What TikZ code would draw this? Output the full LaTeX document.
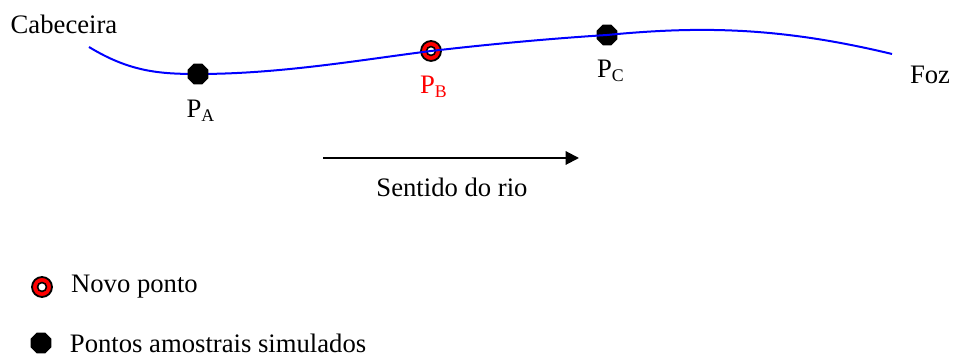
\documentclass[tikz,border=0pt]{standalone}
\usepackage{fontspec}
\setmainfont{Liberation Serif}
\usepackage{xcolor}
\usepackage{tikz}
\usetikzlibrary{arrows,positioning,calc,shapes.geometric,arrows.meta}

\begin{document}
\begin{tikzpicture}[x=0.45pt, y=-0.45pt,
  sample/.style={regular polygon, regular polygon sides=8, fill=black,
    inner sep=0pt, minimum size=10pt},
  newring/.style={circle, draw=black, fill=red, line width=0.8pt,
    inner sep=0pt, minimum size=9pt},
  newhole/.style={circle, draw=black, fill=white, line width=0.7pt,
    inner sep=0pt, minimum size=4pt},
  lbl/.style={font=\fontsize{12}{14}\selectfont, inner sep=0pt},
  river/.style={blue, line width=0.9pt},
  arr/.style={-{Triangle[length=6pt,width=6pt]}, line width=0.9pt}]
  \useasboundingbox (0,0) rectangle (954,360);
  % river course
  \coordinate (src) at (89,47);
  \coordinate (ptA) at (198,74);
  \coordinate (ptB) at (431,51);
  \coordinate (ptC) at (607,35);
  \coordinate (mouth) at (892,54);
  \node[newring] (pB) at (ptB) {};
  \node[newhole] (pBin) at (ptB) {};
  \node[sample] (pC) at (ptC) {};
  \draw[river] (src) .. controls (130,72) and (160,74) .. (ptA)
    .. controls (280,74) and (360,60) .. (ptB)
    .. controls (500,43) and (560,38) .. (ptC)
    .. controls (700,26) and (780,27) .. (mouth);
  \node[sample] (pA) at (ptA) {};
  \node[lbl] (cab) at (64,24) {Cabeceira};
  \node[lbl] (foz) at (930,75) {Foz};
  \node[lbl] (labA) at (201,111) {P\textsubscript{A}};
  \node[lbl, text=red] (labB) at (434,87) {P\textsubscript{B}};
  \node[lbl] (labC) at (611,71) {P\textsubscript{C}};
  % direction
  \coordinate (dirL) at (323,158);
  \coordinate (dirR) at (579,158);
  \draw[arr] (dirL) -- (dirR);
  \node[lbl] (dir) at (452,187) {Sentido do rio};
  % legend
  \node[newring] (kNew) at (42,287) {};
  \node[newhole] (kNewin) at (42,287) {};
  \node[lbl, right=8pt of kNew] (tNew) {Novo ponto};
  \node[sample] (kOld) at (41,343) {};
  \node[lbl, right=8pt of kOld] (tOld) {Pontos amostrais simulados};
\end{tikzpicture}
\end{document}
